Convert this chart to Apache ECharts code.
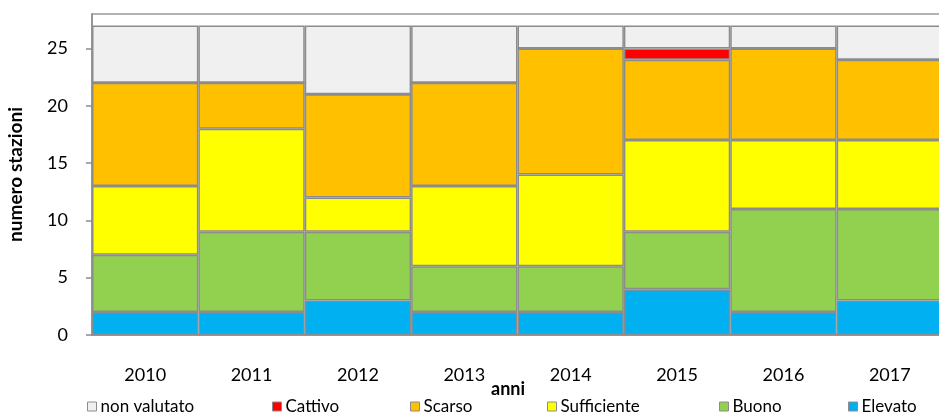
<!DOCTYPE html>
<html lang="it">
<head>
    <meta charset="UTF-8">
    <title>numero stazioni per anno</title>
    <script src="https://cdn.jsdelivr.net/npm/echarts@6/dist/echarts.min.js"></script>
    <style>
        html, body { margin: 0; padding: 0; background: #fff; }
        #chart { width: 939px; height: 416px; }
    </style>
</head>
<body>
<div id="chart"></div>
<script>
    var anni = ['2010', '2011', '2012', '2013', '2014', '2015', '2016', '2017'];

    // stazioni per classe, dal basso verso l'alto
    var elevato     = [2, 2, 3, 2, 2, 4, 2, 3];
    var buono       = [5, 7, 6, 4, 4, 5, 9, 8];
    var sufficiente = [6, 9, 3, 7, 8, 8, 6, 6];
    var scarso      = [9, 4, 9, 9, 11, 7, 8, 7];
    var cattivo     = [0, 0, 0, 0, 0, 1, 0, 0];
    var nonValutato = [5, 5, 6, 5, 2, 2, 2, 3];

    var font = 'Lato, "Open Sans", sans-serif';

    function serie(nome, dati, colore) {
        return {
            name: nome,
            type: 'bar',
            stack: 'tot',
            barCategoryGap: 0,
            data: dati,
            itemStyle: { color: colore, borderColor: '#8c8c8c', borderWidth: 1.5 },
            emphasis: { disabled: true }
        };
    }

    // posizioni delle voci di legenda come nel grafico originale
    var voci = [
        ['non valutato', 82],
        ['Cattivo', 267],
        ['Scarso', 405],
        ['Sufficiente', 542],
        ['Buono', 714],
        ['Elevato', 843]
    ];
    var legende = voci.map(function (v) {
        return {
            data: [v[0]],
            left: v[1],
            top: 393,
            itemWidth: 9,
            itemHeight: 9,
            icon: 'rect',
            itemStyle: { borderColor: '#8c8c8c', borderWidth: 1 },
            textStyle: { fontFamily: font, fontSize: 17, color: '#000', padding: [0, 0, 0, -1] },
            selectedMode: false
        };
    });

    var chart = echarts.init(document.getElementById('chart'));
    chart.setOption({
        animation: false,
        grid: {
            left: 92, right: -4, top: 14, bottom: 81,
            outerBoundsMode: 'none',
            containLabel: false,
            show: true, borderColor: '#9a9a9a', borderWidth: 1.5
        },
        legend: legende,
        xAxis: {
            type: 'category',
            data: anni,
            axisLine: { lineStyle: { color: '#8c8c8c', width: 1.5 } },
            axisTick: { length: 7, lineStyle: { color: '#8c8c8c', width: 1.5 } },
            axisLabel: { margin: 31, fontFamily: font, fontSize: 18, color: '#000' }
        },
        yAxis: {
            type: 'value',
            min: 0,
            max: 28,
            interval: 5,
            name: 'numero stazioni',
            nameLocation: 'middle',
            nameGap: 67,
            nameTextStyle: { fontFamily: font, fontSize: 19, fontWeight: 'bold', color: '#000' },
            axisLine: { show: true, lineStyle: { color: '#8c8c8c', width: 1.5 } },
            axisTick: { show: true, length: 6, lineStyle: { color: '#8c8c8c', width: 1.5 } },
            axisLabel: { margin: 24, fontFamily: font, fontSize: 18, color: '#000', showMaxLabel: false },
            splitLine: { show: false }
        },
        graphic: [{
            type: 'text',
            left: 491,
            top: 380,
            style: { text: 'anni', font: 'bold 18px ' + font, fill: '#000' }
        }],
        series: [
            serie('Elevato', elevato, '#00b0f0'),
            serie('Buono', buono, '#92d050'),
            serie('Sufficiente', sufficiente, '#ffff00'),
            serie('Scarso', scarso, '#ffc000'),
            serie('Cattivo', cattivo, '#ff0000'),
            serie('non valutato', nonValutato, '#f0f0f0')
        ]
    });
</script>
</body>
</html>
